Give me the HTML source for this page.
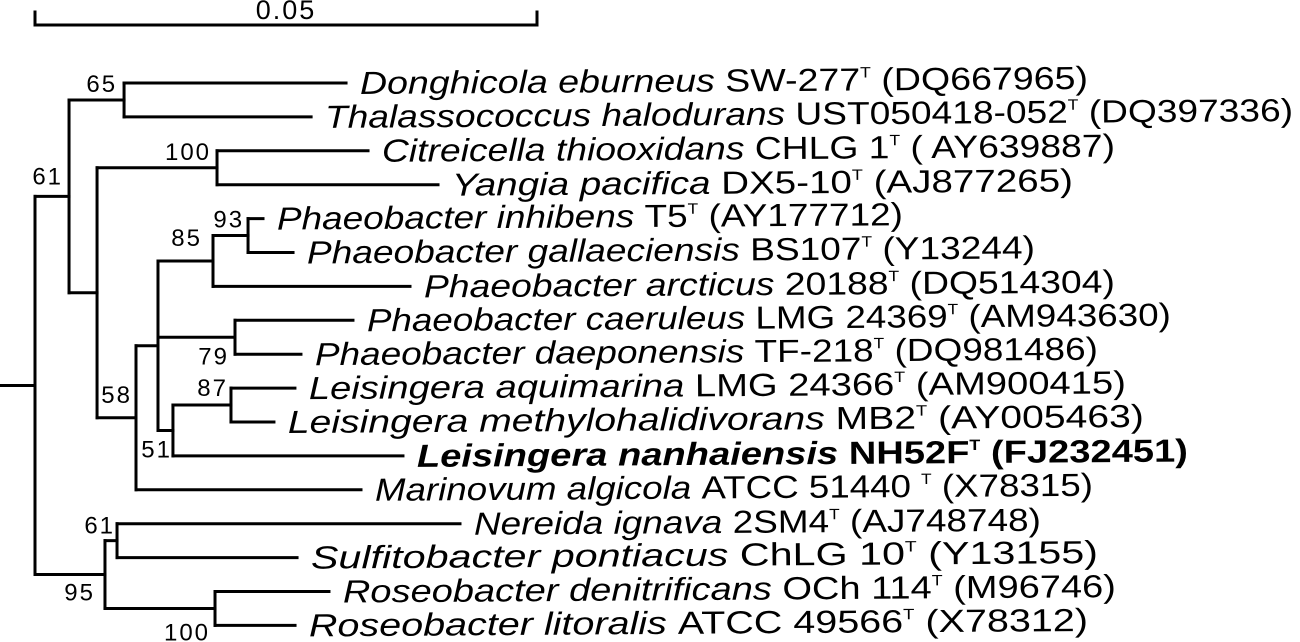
<!DOCTYPE html>
<html><head><meta charset="utf-8">
<style>
html,body{margin:0;padding:0;background:#fff;}
svg{display:block;}
text{font-family:"Liberation Sans",Arial,sans-serif;fill:#000;}
</style></head>
<body>
<svg id="tree" width="1300" height="642" viewBox="0 0 1300 642" xmlns="http://www.w3.org/2000/svg">
<g id="scale"></g>
<g id="branches"></g>
<g id="boot"></g>
<g id="labels"></g>
</svg>
<script>
// Leaf taxa (top to bottom)
const taxonNames = ["Donghicola eburneus","Thalassococcus halodurans","Citreicella thiooxidans","Yangia pacifica","Phaeobacter inhibens","Phaeobacter gallaeciensis","Phaeobacter arcticus","Phaeobacter caeruleus","Phaeobacter daeponensis","Leisingera aquimarina","Leisingera methylohalidivorans","Leisingera nanhaiensis","Marinovum algicola","Nereida ignava","Sulfitobacter pontiacus","Roseobacter denitrificans","Roseobacter litoralis"];
const strains = ["SW-277","UST050418-052","CHLG 1","DX5-10","T5","BS107","20188","LMG 24369","TF-218","LMG 24366","MB2","NH52F","ATCC 51440 ","2SM4","ChLG 10","OCh 114","ATCC 49566"];
const accessions = ["(DQ667965)","(DQ397336)","( AY639887)","(AJ877265)","(AY177712)","(Y13244)","(DQ514304)","(AM943630)","(DQ981486)","(AM900415)","(AY005463)","(FJ232451)","(X78315)","(AJ748748)","(Y13155)","(M96746)","(X78312)"];
const highlighted = [11];
// Tree topology: [label, bootstrap, branchLength(substitutions), children]
const tree = ["root",null,0,[
  ["A",61,0.00339,[
    ["B",65,0.00548,[[0,null,0.02211],[1,null,0.01863]]],
    ["C",null,0.00279,[
      ["D",100,0.01195,[[2,null,0.01504],[3,null,0.02201]]],
      ["E",58,0.00388,[
        ["F",null,0.00219,[
          ["G",85,0.00548,[
            ["H",93,0.00349,[[4,null,0.00149],[5,null,0.00448]]],
            [6,null,0.01962]]],
          ["I",79,0.00767,[[7,null,0.01175],[8,null,0.00657]]],
          ["J",51,0.00149,[
            ["K",87,0.00578,[[9,null,0.00637],[10,null,0.00428]]],
            [11,null,0.02291]]]]],
        [12,null,0.02241]]]]]]],
  ["L",95,0.00697,[
    ["M",61,0.00120,[[13,null,0.03416],[14,null,0.01793]]],
    ["N",100,0.01096,[[15,null,0.01135],[16,null,0.00797]]]]]
]];
const scaleValue = 0.05;
const scaleLabel = "0.05";
// bootstrap label offsets (layout)
const bootOffsets = {A:[-6,-12],B:[-7,-8],D:[-6,-8],H:[-4,-8],G:[-11,-15],I:[-6,27],K:[-3,-9],J:[-1,27],E:[-4,-15],M:[-2,-7],L:[-10,26],N:[-5,32]};
const labelWidths = [728,968,733,621,626,728,691,804,783,817,856,771,718,567,787,773,779];

const NS="http://www.w3.org/2000/svg";
const x0=35, pxPerUnit=502/scaleValue, yTop=83, yStep=33.9;
const xS=d=>x0+d*pxPerUnit;
const yS=i=>yTop+i*yStep;
const br=document.getElementById('branches');
const bt=document.getElementById('boot');
const lb=document.getElementById('labels');
function line(g,x1,y1,x2,y2,name){
  const l=document.createElementNS(NS,'line');
  l.setAttribute('x1',x1);l.setAttribute('y1',y1);l.setAttribute('x2',x2);l.setAttribute('y2',y2);
  l.setAttribute('stroke','#000');l.setAttribute('stroke-width','3');l.setAttribute('stroke-linecap','square');
  
  
  g.appendChild(l);
}
function layout(node,parentDepth){
  const depth=parentDepth+node[2];
  const x=xS(depth);
  if(typeof node[0]==='number'){
    const i=node[0], y=yS(i);
    return {x,y,depth,leaf:i};
  }
  const kids=node[3].map(c=>layout(c,depth));
  const y=(kids[0].y+kids[kids.length-1].y)/2;
  line(br,x,kids[0].y,x,kids[kids.length-1].y,'node-'+node[0]+'-vertical');
  kids.forEach(k=>{
    line(br,x,k.y,k.x,k.y,k.leaf!==undefined?'leaf-branch-'+k.leaf:'internal-branch');
  });
  if(node[1]!=null){
    const o=bootOffsets[node[0]]||[-4,-8];
    const t=document.createElementNS(NS,'text');
    t.setAttribute('x',x+o[0]);t.setAttribute('y',y+o[1]);
    t.setAttribute('text-anchor','end');t.setAttribute('font-size','24');
    t.setAttribute('letter-spacing','2');
    t.textContent=node[1];
    
    
    bt.appendChild(t);
  }
  kids.forEach(k=>{ if(k.leaf!==undefined) drawLabel(k); });
  return {x,y,depth};
}
function drawLabel(k){
  const i=k.leaf;
  const sx=k.x+14, by=k.y+11;
  const t=document.createElementNS(NS,'text');
  t.setAttribute('x',sx);t.setAttribute('y',by);t.setAttribute('font-size','32');
  t.setAttribute('textLength',labelWidths[i]);t.setAttribute('lengthAdjust','spacingAndGlyphs');
  t.setAttribute('transform','rotate(-0.4 '+sx+' '+by+')');
  if(highlighted.includes(i)) t.setAttribute('font-weight','bold');
  
  
  const a=document.createElementNS(NS,'tspan');a.setAttribute('font-style','italic');a.textContent=taxonNames[i]+' ';
  const b=document.createElementNS(NS,'tspan');b.textContent=strains[i];
  const c=document.createElementNS(NS,'tspan');c.setAttribute('font-size','15');c.setAttribute('dy','-13');c.textContent='T';
  const d=document.createElementNS(NS,'tspan');d.setAttribute('dy','13');d.textContent=' '+accessions[i];
  t.appendChild(a);t.appendChild(b);t.appendChild(c);t.appendChild(d);
  lb.appendChild(t);
}
const rootInfo=layout(tree,0);
line(br,0,rootInfo.y,x0,rootInfo.y,'root-stem');
// scale bar
const sc=document.getElementById('scale');
line(sc,xS(0),25,xS(scaleValue),25,'scale-bar-line');
line(sc,xS(0),12,xS(0),25,'scale-bar-left-tick');
line(sc,xS(scaleValue),12,xS(scaleValue),25,'scale-bar-right-tick');
const st=document.createElementNS(NS,'text');
st.setAttribute('x',(xS(0)+xS(scaleValue))/2);st.setAttribute('y',19);
st.setAttribute('text-anchor','middle');st.setAttribute('font-size','27');st.setAttribute('letter-spacing','2');
st.textContent=scaleLabel;


sc.appendChild(st);
</script>
</body></html>
